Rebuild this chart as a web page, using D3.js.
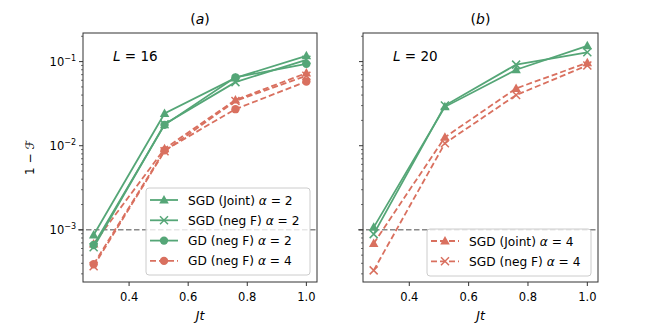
<!DOCTYPE html>
<html>
<head>
<meta charset="utf-8">
<script src="https://cdn.jsdelivr.net/npm/d3@7"></script>
<style>
  body { margin: 0; background: #fff; }
  text { font-family: "DejaVu Sans", sans-serif; }
</style>
</head>
<body>
<div id="chart"></div>
<script>
// x values shared by every curve
var jt = [0.28, 0.52, 0.76, 1.0];

// L = 16 (panel a)
var l16SgdJointA2 = [0.00087, 0.0242, 0.064, 0.117];
var l16SgdNegFA2  = [0.00062, 0.018, 0.057, 0.105];
var l16GdNegFA2   = [0.00066, 0.0177, 0.065, 0.094];
var l16GdNegFA4   = [0.00039, 0.0088, 0.0272, 0.058];
var l16SgdJointA4 = [0.00068, 0.0092, 0.035, 0.073];
var l16SgdNegFA4  = [0.00037, 0.0086, 0.034, 0.068];

// L = 20 (panel b)
var l20SgdJointA2 = [0.00107, 0.029, 0.080, 0.154];
var l20SgdNegFA2  = [0.00089, 0.030, 0.092, 0.129];
var l20SgdJointA4 = [0.00069, 0.0126, 0.048, 0.097];
var l20SgdNegFA4  = [0.00033, 0.0107, 0.040, 0.090];

var xTicks = [0.4, 0.6, 0.8, 1.0];
var yMajor = [-3, -2, -1];
var threshold = 1e-3;

var green = "#55a677";
var red = "#d9705f";

var width = 664, height = 332;
var top_ = 33, bottom = 282;

var svg = d3.select("#chart").append("svg")
    .attr("width", width)
    .attr("height", height);

var y = d3.scaleLog()
    .domain([Math.pow(10, -3.62), Math.pow(10, -0.66)])
    .range([bottom, top_]);

function drawMarker(g, shape, color, cx, cy) {
    if (shape == "tri") {
        var r = 5;
        g.append("path")
            .attr("d", "M" + cx + "," + (cy - r) + "L" + (cx + r * 0.95) + "," + (cy + r * 0.7) + "L" + (cx - r * 0.95) + "," + (cy + r * 0.7) + "Z")
            .attr("fill", color);
    } else if (shape == "circ") {
        g.append("circle").attr("cx", cx).attr("cy", cy).attr("r", 4.2).attr("fill", color);
    } else {
        var s = 4;
        g.append("path")
            .attr("d", "M" + (cx - s) + "," + (cy - s) + "L" + (cx + s) + "," + (cy + s) + "M" + (cx - s) + "," + (cy + s) + "L" + (cx + s) + "," + (cy - s))
            .attr("stroke", color).attr("stroke-width", 1.5).attr("fill", "none");
    }
}

function alphaLabel(t, name, a) {
    t.append("tspan").text(name + " ");
    t.append("tspan").attr("font-style", "italic").text("α");
    t.append("tspan").text(" = " + a);
}

function panel(left, right, letter, L, series, legendItems, legendBox, showYLabels) {
    var x = d3.scaleLinear().domain([0.244, 1.036]).range([left, right]);
    var g = svg.append("g");

    // threshold line
    g.append("line")
        .attr("x1", left - 5).attr("x2", right)
        .attr("y1", y(threshold)).attr("y2", y(threshold))
        .attr("stroke", "#888").attr("stroke-width", 1.5)
        .attr("stroke-dasharray", "5.5,2.5");

    var line = d3.line()
        .x(function(d) { return x(d[0]); })
        .y(function(d) { return y(d[1]); });

    series.forEach(function(s) {
        var pts = jt.map(function(v, i) { return [v, s.values[i]]; });
        g.append("path")
            .attr("d", line(pts))
            .attr("fill", "none")
            .attr("stroke", s.color)
            .attr("stroke-width", 1.8)
            .attr("stroke-dasharray", s.dashed ? "6,3" : null);
        pts.forEach(function(p) {
            drawMarker(g, s.marker, s.color, x(p[0]), y(p[1]));
        });
    });

    // spines
    g.append("rect")
        .attr("x", left).attr("y", top_)
        .attr("width", right - left).attr("height", bottom - top_)
        .attr("fill", "none").attr("stroke", "#333").attr("stroke-width", 1);

    // x ticks
    xTicks.forEach(function(t) {
        g.append("line").attr("x1", x(t)).attr("x2", x(t))
            .attr("y1", bottom).attr("y2", bottom + 4)
            .attr("stroke", "#333");
        g.append("text").attr("x", x(t)).attr("y", bottom + 19)
            .attr("text-anchor", "middle").attr("font-size", 11.5).text(d3.format(".1f")(t));
    });
    g.append("text").attr("x", (left + right) / 2).attr("y", bottom + 38)
        .attr("text-anchor", "middle").attr("font-size", 12.5).attr("font-style", "italic").text("Jt");

    // y ticks
    for (var e = -4; e <= 0; e++) {
        for (var m = 1; m <= 9; m++) {
            var v = m * Math.pow(10, e);
            if (v < y.domain()[0] || v > y.domain()[1]) continue;
            var len = m == 1 ? 4 : 2;
            g.append("line").attr("x1", left - len).attr("x2", left)
                .attr("y1", y(v)).attr("y2", y(v))
                .attr("stroke", "#333").attr("stroke-width", m == 1 ? 1 : 0.7);
        }
    }
    if (showYLabels) {
        yMajor.forEach(function(e) {
            var t = g.append("text").attr("x", left - 7).attr("y", y(Math.pow(10, e)) + 4)
                .attr("text-anchor", "end").attr("font-size", 11.5);
            t.append("tspan").text("10");
            t.append("tspan").attr("dy", -5).attr("font-size", 8).text("−" + (-e));
        });
    }

    // title
    var ti = g.append("text").attr("x", (left + right) / 2).attr("y", 24)
        .attr("text-anchor", "middle").attr("font-size", 14);
    ti.append("tspan").text("(");
    ti.append("tspan").attr("font-style", "italic").text(letter);
    ti.append("tspan").text(")");

    var lt = g.append("text").attr("x", left + 30).attr("y", 61).attr("font-size", 13.5);
    lt.append("tspan").attr("font-style", "italic").text("L");
    lt.append("tspan").text(" = " + L);

    // legend
    var lg = g.append("g");
    lg.append("rect")
        .attr("x", legendBox[0]).attr("y", legendBox[1])
        .attr("width", legendBox[2]).attr("height", legendBox[3])
        .attr("rx", 3).attr("fill", "#fff").attr("fill-opacity", 0.8)
        .attr("stroke", "#ccc").attr("stroke-width", 1);
    legendItems.forEach(function(s, i) {
        var ly = legendBox[1] + 12 + i * 20.3;
        var lx = legendBox[0] + 4;
        lg.append("line").attr("x1", lx).attr("x2", lx + 28)
            .attr("y1", ly).attr("y2", ly)
            .attr("stroke", s.color).attr("stroke-width", 1.8)
            .attr("stroke-dasharray", s.dashed ? "6,3" : null);
        drawMarker(lg, s.marker, s.color, lx + 14, ly);
        var t = lg.append("text").attr("x", lx + 38).attr("y", ly + 4.5).attr("font-size", 12.2);
        alphaLabel(t, s.name, s.alpha);
    });
}

var sJ2 = {name: "SGD (Joint)", alpha: 2, color: green, marker: "tri", dashed: false};
var sN2 = {name: "SGD (neg F)", alpha: 2, color: green, marker: "x", dashed: false};
var gN2 = {name: "GD (neg F)", alpha: 2, color: green, marker: "circ", dashed: false};
var gN4 = {name: "GD (neg F)", alpha: 4, color: red, marker: "circ", dashed: true};
var sJ4 = {name: "SGD (Joint)", alpha: 4, color: red, marker: "tri", dashed: true};
var sN4 = {name: "SGD (neg F)", alpha: 4, color: red, marker: "x", dashed: true};

function withVals(s, v) { return Object.assign({}, s, {values: v}); }

panel(83, 317, "a", 16, [
    withVals(sJ4, l16SgdJointA4), withVals(sN4, l16SgdNegFA4), withVals(gN4, l16GdNegFA4),
    withVals(gN2, l16GdNegFA2), withVals(sN2, l16SgdNegFA2), withVals(sJ2, l16SgdJointA2)
], [sJ2, sN2, gN2, gN4], [146, 188, 164, 87], true);

panel(363, 598, "b", 20, [
    withVals(sJ4, l20SgdJointA4), withVals(sN4, l20SgdNegFA4),
    withVals(sN2, l20SgdNegFA2), withVals(sJ2, l20SgdJointA2)
], [sJ4, sN4], [427, 229, 164, 47], false);

// shared y label
var yl = svg.append("text")
    .attr("transform", "translate(34," + ((top_ + bottom) / 2) + ") rotate(-90)")
    .attr("text-anchor", "middle").attr("font-size", 12);
yl.append("tspan").text("1 − ");
yl.append("tspan").attr("font-style", "italic").text("ℱ");
</script>
</body>
</html>
